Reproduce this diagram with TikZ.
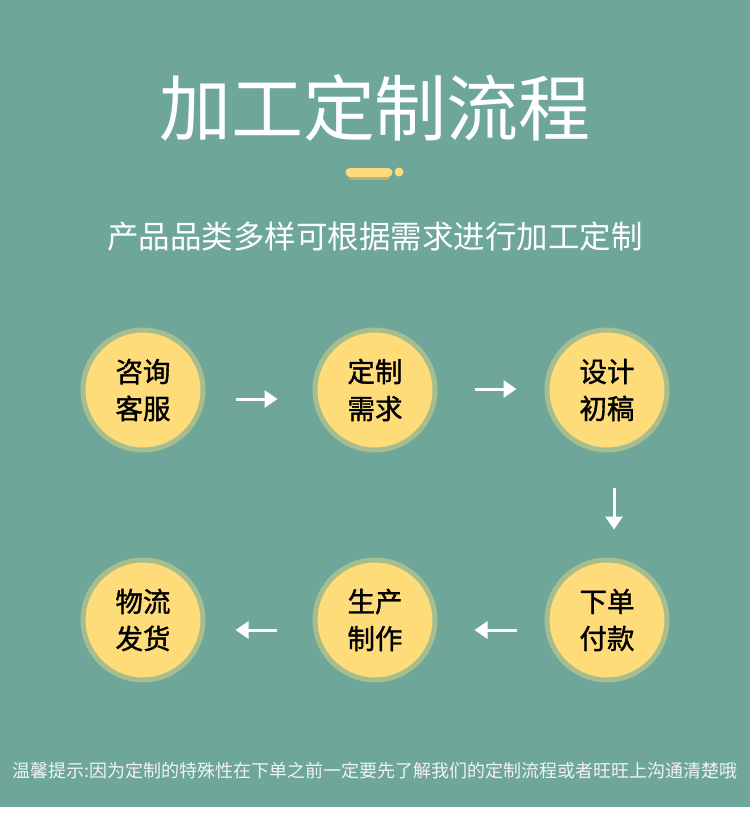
\documentclass[tikz,border=0pt]{standalone}
\usepackage{fontspec}
\setmainfont{Noto Sans CJK SC}
\newfontfamily\stagefont[FakeBold=1.3]{Noto Sans CJK SC}
\usetikzlibrary{arrows.meta,positioning}
\definecolor{bgteal}{HTML}{6EA69A}
\definecolor{discfill}{HTML}{FDDC79}
\definecolor{discring}{HTML}{A6BD8D}
\definecolor{barshadow}{HTML}{B4B27E}
\definecolor{footgray}{HTML}{F2F2F2}

\tikzset{
  stage/.style={circle, fill=discfill, draw=discring, line width=5pt,
    minimum size=120pt, inner sep=0pt, align=center,
    font=\stagefont\fontsize{27.5}{37}\selectfont, text=black},
  flow/.style={-{Triangle[length=13pt,width=17pt]}, white, line width=3pt}
}

\begin{document}
\begin{tikzpicture}[x=1pt,y=-1pt]
% background
\useasboundingbox (0,0) rectangle (750,831);
\fill[bgteal] (0,0) rectangle (750,807);
\fill[white] (0,807) rectangle (750,831);
% heading
\node[text=white, font=\fontsize{72}{72}\selectfont] (title) at (375,108) {加工定制流程};
\draw[barshadow, line width=8pt, line cap=round] (352,176) -- (386,176);
\draw[discfill, line width=9pt, line cap=round] (350,172) -- (388,172);
\fill[discfill] (399,172) circle (4.5);
\node[text=white, font=\fontsize{31.5}{31.5}\selectfont] (sub) at (375,237) {产品品类多样可根据需求进行加工定制};
% process stages
\foreach \n/\x/\y/\t in {c1/143/390/咨询\\客服, c2/375/390/定制\\需求, c3/607/390/设计\\初稿,
                        c4/143/620/物流\\发货, c5/375/620/生产\\制作, c6/607/620/下单\\付款} {
  \node[stage] (\n) at (\x,\y) {\t};
}
% arrows
\draw[flow, shorten <=30pt, shorten >=35pt] ([yshift=-9pt]c1.east) -- ([yshift=-9pt]c2.west);
\draw[flow, shorten <=37pt, shorten >=28pt] ([yshift=1pt]c2.east) -- ([yshift=1pt]c3.west);
\draw[flow, shorten <=35pt, shorten >=28pt] ([xshift=7pt]c3.south) -- ([xshift=7pt]c6.north);
\draw[flow, shorten <=28pt, shorten >=37pt] ([yshift=-10pt]c6.west) -- ([yshift=-10pt]c5.east);
\draw[flow, shorten <=36pt, shorten >=30pt] ([yshift=-10pt]c5.west) -- ([yshift=-10pt]c4.east);
% footer note
\node[text=footgray, font=\fontsize{18}{18}\selectfont] (note) at (375,771) {温馨提示:因为定制的特殊性在下单之前一定要先了解我们的定制流程或者旺旺上沟通清楚哦};
\end{tikzpicture}
\end{document}
